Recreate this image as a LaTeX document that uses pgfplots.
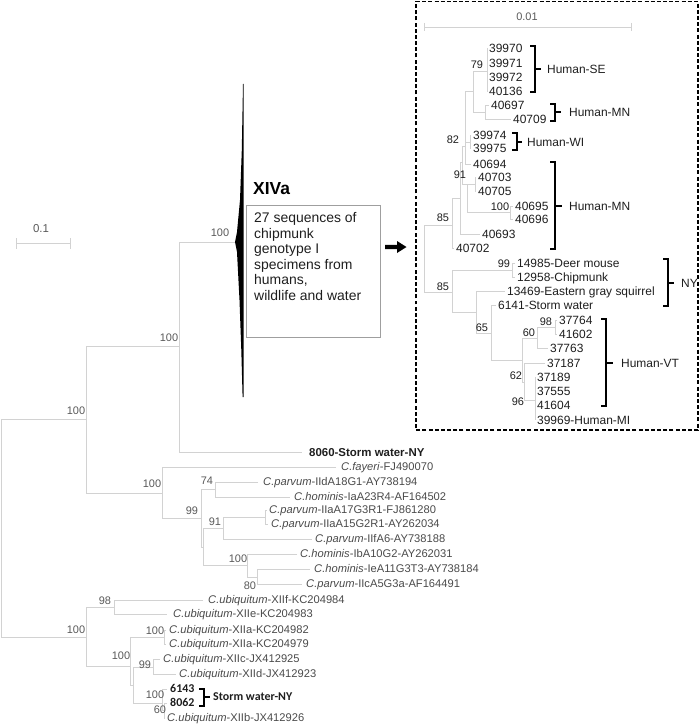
\documentclass[border=0pt]{standalone}
\usepackage{fontspec}
\setmainfont{Liberation Sans}
\newfontfamily\carlito{Carlito}
\usepackage{pgfplots}
\pgfplotsset{compat=1.18}
\definecolor{brc}{HTML}{D2D2D2}
\definecolor{lt}{HTML}{4A4A4A}
\definecolor{bsc}{HTML}{595959}
\definecolor{dk}{HTML}{1E1E1E}
\tikzset{
  br/.style={color=brc, line width=0.9pt, mark=none},
  bk/.style={color=black, line width=1.1pt, mark=none},
  ml/.style={inner sep=0pt, text height=8pt, text depth=0pt, anchor=west, font=\fontsize{11.2}{13}\selectfont, text=lt},
  il/.style={inner sep=0pt, text height=8.6pt, text depth=0pt, anchor=west, font=\fontsize{12}{14}\selectfont, text=dk},
  bsn/.style={inner sep=0pt, text height=7.9pt, text depth=0pt, anchor=center, font=\fontsize{11}{13}\selectfont, text=bsc},
  ibn/.style={inner sep=0pt, text height=7.9pt, text depth=0pt, anchor=center, font=\fontsize{11}{13}\selectfont, text=dk},
  bx/.style={anchor=west, inner sep=0pt, text height=10pt, text depth=0pt, font=\fontsize{14}{16}\selectfont, text=dk},
  cb/.style={anchor=west, inner sep=0pt, text height=7.7pt, text depth=0pt, font=\carlito\fontsize{12}{14}\selectfont\bfseries, text=dk},
}
\newcommand{\cl}[5]{\addplot[br] coordinates {(#1,#2)(#3,#2)(#3,#4)(#5,#4)};}
\newcommand{\sg}[4]{\addplot[br] coordinates {(#1,#2)(#3,#4)};}
\newcommand{\ml}[3]{\node[ml] at (axis cs:#1,#2) {#3};}
\newcommand{\il}[3]{\node[il] at (axis cs:#1,#2) {#3};}
\newcommand{\bv}[3]{\node[bsn] at (axis cs:#1,#2) {#3};}
\newcommand{\ib}[3]{\node[ibn] at (axis cs:#1,#2) {#3};}
\begin{document}
\begin{tikzpicture}
\begin{axis}[hide axis, scale only axis, width=700bp, height=726bp,
  xmin=0, xmax=700, ymin=0, ymax=726, y dir=reverse, clip=false]
\addplot[draw=none] coordinates {(0,0)(700,726)};
% ---------- main tree ----------
\cl{86}{419}{1}{637}{86}
\cl{179}{346}{86}{493}{162}
\cl{236}{242}{179}{452}{302}
\cl{336}{467}{162}{518}{201}
\cl{215}{489}{201}{547}{203}
\cl{258}{482}{215}{497}{290}
\cl{223}{528}{203}{565}{247}
\cl{265}{517}{223}{539}{312}
\cl{267}{510}{265}{524}{268}
\cl{297}{554}{247}{577}{257}
\cl{310}{569}{257}{584}{302}
\cl{114}{607}{86}{666}{130}
\cl{203}{600}{114}{614}{167}
\cl{164}{637}{130}{685}{133}
\cl{166}{630}{164}{644}{166}
\cl{153}{667}{133}{703}{162}
\cl{160}{659}{153}{674}{176}
\cl{167}{689}{162}{710}{164}
\cl{167}{703}{164}{718}{165}
% collapsed clade
\addplot[fill=black, draw=none] coordinates {(243,84)(241.8,150)(240,200)(237,232)(235,242)(237,252)(239.5,300)(241.3,350)(242.6,397)(243.6,397)(243.6,84)};
\addplot[color=gray!75, line width=0.8pt, mark=none] coordinates {(246,205)(380,205)(380,337)(246,337)(246,205)};
\addplot[fill=black, draw=none] coordinates {(385,244.8)(397,244.8)(397,241)(406.5,247)(397,253)(397,249.2)(385,249.2)};
% scale bars
\addplot[br] coordinates {(16,243)(70,243)};
\addplot[br] coordinates {(16,238)(16,249)};
\addplot[br] coordinates {(70,238)(70,249)};
\node[bsn, font=\fontsize{11.5}{13}\selectfont] at (axis cs:41,229) {0.1};
% ---------- inset ----------
\addplot[color=black, line width=1.1pt, dash pattern=on 4pt off 2.2pt, mark=none] coordinates {(416,1.5)(698,1.5)(698,430)(416,430)(416,1.5)};
\addplot[br] coordinates {(424,27)(631,27)};
\addplot[br] coordinates {(424,23)(424,31)};
\addplot[br] coordinates {(631,23)(631,31)};
\node[ibn, text=bsc] at (axis cs:527,17) {0.01};
\cl{452}{225}{424}{292}{452}
\cl{460}{198}{452}{248}{454}
\cl{462}{162}{460}{234}{480}
\cl{465}{146}{462}{184}{467}
\cl{473}{91}{465}{164}{471}
\sg{465}{142}{470}{142}
\cl{487}{71}{473}{112}{485}
\cl{488}{48}{487}{91}{488}
\cl{489}{105}{485}{119}{511}
\cl{471}{135}{470}{148}{471}
\cl{475}{184}{467}{212}{510}
\cl{476}{177}{475}{191}{476}
\cl{513}{206}{510}{219}{513}
\cl{512}{270}{452}{312}{476}
\cl{515}{263}{512}{277}{515}
\cl{505}{291}{476}{333}{491}
\cl{496}{305}{491}{360}{522}
\cl{537}{338}{522}{382}{524}
\cl{555}{327}{537}{348}{548}
\cl{557}{320}{555}{334}{557}
\cl{545}{363}{524}{400}{535}
\cl{535}{377}{535}{420}{535}
% brackets
\addplot[bk] coordinates {(530,46)(535,46)(535,92)(530,92)};
\addplot[bk] coordinates {(535,69)(541,69)};
\addplot[bk] coordinates {(550,104)(555,104)(555,121)(550,121)};
\addplot[bk] coordinates {(555,112)(561,112)};
\addplot[bk] coordinates {(512,133)(517,133)(517,150)(512,150)};
\addplot[bk] coordinates {(517,142)(522,142)};
\addplot[bk] coordinates {(550,162)(555,162)(555,249)(550,249)};
\addplot[bk] coordinates {(555,206)(562,206)};
\addplot[bk] coordinates {(663,259)(668,259)(668,306)(663,306)};
\addplot[bk] coordinates {(668,283)(674,283)};
\addplot[bk] coordinates {(601,319)(606,319)(606,406)(601,406)};
\addplot[bk] coordinates {(606,363)(613,363)};
\addplot[bk] coordinates {(199,689)(204,689)(204,706)(199,706)};
\addplot[bk] coordinates {(204,697)(210,697)};
% ---------- texts ----------
\node[anchor=west, inner sep=0pt, text height=12.6pt, text depth=0pt, font=\fontsize{17.5}{20}\selectfont\bfseries] at (axis cs:253,188) {XIVa};
\node[bx] at (axis cs:254,218) {27 sequences of};
\node[bx] at (axis cs:254,233.5) {chipmunk};
\node[bx] at (axis cs:254,249) {genotype I};
\node[bx] at (axis cs:254,264.5) {specimens from};
\node[bx] at (axis cs:254,280) {humans,};
\node[bx] at (axis cs:254,295.5) {wildlife and water};
\node[anchor=west, inner sep=0pt, text height=8.3pt, text depth=0pt, font=\fontsize{11.5}{13}\selectfont\bfseries, text=dk] at (axis cs:309,452) {8060-Storm water-NY};
\ml{341}{467}{\textit{C.fayeri}-FJ490070}
\ml{263}{482}{\textit{C.parvum}-IIdA18G1-AY738194}
\ml{294}{497}{\textit{C.hominis}-IaA23R4-AF164502}
\ml{269}{510}{\textit{C.parvum}-IIaA17G3R1-FJ861280}
\ml{271}{524}{\textit{C.parvum}-IIaA15G2R1-AY262034}
\ml{315}{539}{\textit{C.parvum}-IIfA6-AY738188}
\ml{300}{554}{\textit{C.hominis}-IbA10G2-AY262031}
\ml{314}{569}{\textit{C.hominis}-IeA11G3T3-AY738184}
\ml{306}{584}{\textit{C.parvum}-IIcA5G3a-AF164491}
\ml{208}{600}{\textit{C.ubiquitum}-XIIf-KC204984}
\ml{173}{614}{\textit{C.ubiquitum}-XIIe-KC204983}
\ml{169}{630}{\textit{C.ubiquitum}-XIIa-KC204982}
\ml{169}{644}{\textit{C.ubiquitum}-XIIa-KC204979}
\ml{163}{659}{\textit{C.ubiquitum}-XIIc-JX412925}
\ml{179}{674}{\textit{C.ubiquitum}-XIId-JX412923}
\ml{167}{718}{\textit{C.ubiquitum}-XIIb-JX412926}
\node[cb] at (axis cs:170,689) {6143};
\node[cb] at (axis cs:170,703) {8062};
\node[cb] at (axis cs:213,697) {Storm water-NY};
% bootstrap main
\bv{220}{233}{100}
\bv{169}{338}{100}
\bv{76}{411}{100}
\bv{152}{484}{100}
\bv{192}{511}{99}
\bv{207}{481}{74}
\bv{215}{522}{91}
\bv{238}{559}{100}
\bv{250}{586}{80}
\bv{105}{601}{98}
\bv{76}{630}{100}
\bv{155}{631}{100}
\bv{121}{656}{100}
\bv{145}{665}{99}
\bv{155}{695}{100}
\bv{160}{710}{60}
% inset labels
\il{489}{48}{39970}
\il{489}{63}{39971}
\il{489}{77}{39972}
\il{489}{91}{40136}
\il{491}{105}{40697}
\il{513}{119}{40709}
\il{473}{135}{39974}
\il{473}{148}{39975}
\il{473}{164}{40694}
\il{478}{177}{40703}
\il{478}{191}{40705}
\il{515}{206}{40695}
\il{515}{219}{40696}
\il{482}{234}{40693}
\il{456}{248}{40702}
\il{517}{263}{14985-Deer mouse}
\il{517}{277}{12958-Chipmunk}
\il{507}{291}{13469-Eastern gray squirrel}
\il{498}{305}{6141-Storm water}
\il{559}{320}{37764}
\il{559}{334}{41602}
\il{550}{348}{37763}
\il{547}{363}{37187}
\il{537}{377}{37189}
\il{537}{391}{37555}
\il{537}{405}{41604}
\il{537}{420}{39969-Human-MI}
\il{547}{69}{Human-SE}
\il{569}{112}{Human-MN}
\il{527}{142}{Human-WI}
\il{569}{206}{Human-MN}
\il{681}{283}{NY}
\il{621}{363}{Human-VT}
\ib{477}{65}{79}
\ib{453}{140}{82}
\ib{460}{175}{91}
\ib{500}{207}{100}
\ib{443}{218}{85}
\ib{443}{287}{85}
\ib{504}{264}{99}
\ib{482}{328}{65}
\ib{546}{322}{98}
\ib{529}{333}{60}
\ib{516}{376}{62}
\ib{518}{402}{96}
\end{axis}
\end{tikzpicture}
\end{document}
